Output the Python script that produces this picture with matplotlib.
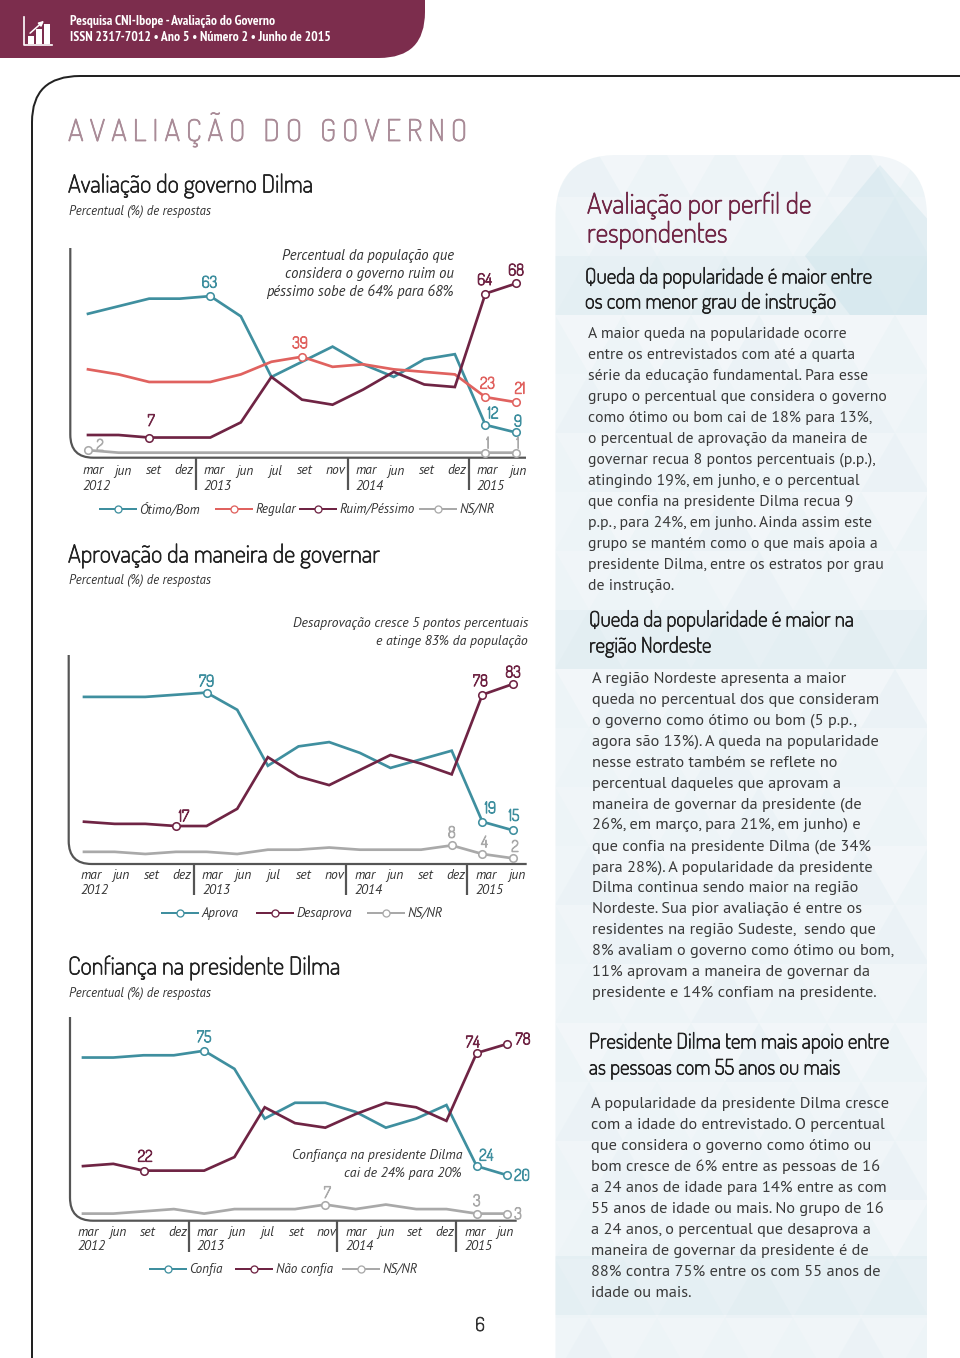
import matplotlib
matplotlib.use("Agg")
import matplotlib.pyplot as plt
import matplotlib.patheffects as pe
from matplotlib.patches import PathPatch, Polygon, FancyBboxPatch
from matplotlib.path import Path

W, H = 960, 1358
TEAL = "#3F8F9F"
RED = "#E0625F"
MAROON = "#6F2444"
GRAY = "#A9A9A9"
BAND = "#7C2D4D"
AXIS = "#555555"
# PT Sans and Dosis come first, the rest are the fallback if they are missing
HEAD = ["Dosis", "Roboto", "DejaVu Sans"]
BODY = ["PT Sans", "Lato", "DejaVu Sans"]
NARROW = ["PT Sans Narrow", "Roboto", "DejaVu Sans"]

months = ["mar", "jun", "set", "dez", "mar", "jun", "jul", "set", "nov",
          "mar", "jun", "set", "dez", "mar", "jun"]
year_idx = [0, 4, 9, 13]
years = ["2012", "2013", "2014", "2015"]

# avaliacao do governo
otimo = [56, 59, 62, 62, 63, 55, 31, 37, 43, 36, 31, 38, 40, 12, 9]
regular = [34, 32, 29, 29, 29, 32, 37, 39, 35, 36, 34, 33, 32, 23, 21]
ruim = [8, 8, 7, 7, 7, 13, 31, 22, 20, 26, 33, 28, 27, 64, 68]
nsnr1 = [2, 1, 1, 1, 1, 1, 1, 1, 1, 1, 1, 1, 1, 1, 1]

# aprovacao
aprova = [77, 77, 77, 78, 79, 71, 45, 54, 56, 51, 44, 48, 52, 19, 15]
desaprova = [19, 18, 18, 17, 17, 25, 49, 40, 36, 43, 50, 46, 41, 78, 83]
nsnr2 = [5, 5, 4, 5, 5, 4, 6, 6, 7, 6, 6, 6, 8, 4, 2]

# confianca
confia = [72, 72, 73, 73, 75, 67, 45, 52, 52, 48, 41, 45, 51, 24, 20]
nao_confia = [24, 25, 22, 22, 22, 28, 50, 43, 41, 47, 52, 50, 44, 74, 78]
nsnr3 = [3, 3, 4, 5, 3, 5, 5, 5, 7, 5, 7, 5, 5, 3, 3]

body1 = ["A maior queda na popularidade ocorre",
         "entre os entrevistados com até a quarta",
         "série da educação fundamental. Para esse",
         "grupo o percentual que considera o governo",
         "como ótimo ou bom cai de 18% para 13%,",
         "o percentual de aprovação da maneira de",
         "governar recua 8 pontos percentuais (p.p.),",
         "atingindo 19%, em junho, e o percentual",
         "que confia na presidente Dilma recua 9",
         "p.p., para 24%, em junho. Ainda assim este",
         "grupo se mantém como o que mais apoia a",
         "presidente Dilma, entre os estratos por grau",
         "de instrução."]
body2 = ["A região Nordeste apresenta a maior",
         "queda no percentual dos que consideram",
         "o governo como ótimo ou bom (5 p.p.,",
         "agora são 13%). A queda na popularidade",
         "nesse estrato também se reflete no",
         "percentual daqueles que aprovam a",
         "maneira de governar da presidente (de",
         "26%, em março, para 21%, em junho) e",
         "que confia na presidente Dilma (de 34%",
         "para 28%). A popularidade da presidente",
         "Dilma continua sendo maior na região",
         "Nordeste. Sua pior avaliação é entre os",
         "residentes na região Sudeste,  sendo que",
         "8% avaliam o governo como ótimo ou bom,",
         "11% aprovam a maneira de governar da",
         "presidente e 14% confiam na presidente."]
body3 = ["A popularidade da presidente Dilma cresce",
         "com a idade do entrevistado. O percentual",
         "que considera o governo como ótimo ou",
         "bom cresce de 6% entre as pessoas de 16",
         "a 24 anos de idade para 14% entre as com",
         "55 anos de idade ou mais. No grupo de 16",
         "a 24 anos, o percentual que desaprova a",
         "maneira de governar da presidente é de",
         "88% contra 75% entre os com 55 anos de",
         "idade ou mais."]


def pt(px):
    return px * 0.72


fig = plt.figure(figsize=(W / 100, H / 100), dpi=100, facecolor="white")
page = fig.add_axes([0, 0, 1, 1])
page.set_xlim(0, W)
page.set_ylim(H, 0)
page.axis("off")


def heavy(color, width=0.55):
    # the Dosis file only has its thin weight, so fatten it with a stroke
    return [pe.withStroke(linewidth=width, foreground=color)]


def txt(x, y, s, size, color="#222222", family=HEAD, **kw):
    kw.setdefault("va", "center")
    t = page.text(x, y, s, fontsize=pt(size), color=color, family=family, **kw)
    if family is HEAD:
        t.set_path_effects(heavy(color))


def draw_path(points, codes, **kw):
    page.add_patch(PathPatch(Path(points, codes), **kw))


M, L, C = Path.MOVETO, Path.LINETO, Path.CURVE3

# header band and page frame
draw_path([(0, 0), (425, 0), (425, 12), (425, 58), (379, 58), (0, 58), (0, 0)],
          [M, L, L, C, C, L, L], fc=BAND, ec="none")
draw_path([(32, H), (32, 122), (32, 76), (80, 76), (W, 76)],
          [M, L, C, C, L], fc="none", ec="#222222", lw=pt(2))

# icon
page.plot([24, 24, 52], [17, 45, 45], color="white", lw=1.2)
for bx, bh in [(28, 8), (36, 15), (44, 20)]:
    page.fill([bx, bx + 6, bx + 6, bx], [44, 44, 44 - bh, 44 - bh], color="white", lw=0)
page.annotate("", xy=(46, 19), xytext=(28, 35),
              arrowprops=dict(arrowstyle="-|>", color="white", lw=1.1, mutation_scale=7))

txt(70, 21, "Pesquisa CNI-Ibope - Avaliação do Governo", 13.6, "white", NARROW, weight="bold")
txt(70, 37.5, "ISSN 2317-7012 • Ano 5 • Número 2 • Junho de 2015", 13.6, "white", NARROW, weight="bold")

txt(68, 131, "A V A L I A Ç Ã O   D O   G O V E R N O", 30, "#A98B97")

# right panel with the triangle pattern
panel = FancyBboxPatch((555.5, 155), 371.5, 1300, boxstyle="round,pad=0,rounding_size=62",
                       fc="#EFF5F8", ec="none")
page.add_patch(panel)
side, row_h = 68, 59
dark_rows = [256, 610, 1256]
for r in range(-2, 21):
    y0 = 138 + 59 * r
    for c in range(0, 8):
        xc = 555 + c * side - (side / 2 if r % 2 else 0)
        up = Polygon([(xc, y0 + row_h), (xc + side, y0 + row_h), (xc + side / 2, y0)],
                     fc="#D5E7ED", ec="none", alpha=0.05 + 0.10 * ((r * 3 + c * 5) % 4 == 0))
        down = Polygon([(xc + side / 2, y0), (xc + side * 1.5, y0), (xc + side, y0 + row_h)],
                       fc="white", ec="none", alpha=0.08 + 0.12 * ((r + c * 3) % 3 == 0))
        page.add_patch(up)
        page.add_patch(down)
        up.set_clip_path(panel)
        down.set_clip_path(panel)
for y0 in dark_rows:
    band = page.fill([555, 927, 927, 555], [y0, y0, y0 + 59, y0 + 59], color="#CDE3EA", alpha=0.25, lw=0)[0]
    band.set_clip_path(panel)
tri = Polygon([(805, 256), (880, 165), (960, 256), (960, 315), (850, 315)], fc="#BFDDE6", ec="none", alpha=0.3)
page.add_patch(tri)
tri.set_clip_path(panel)

# section titles
txt(68, 186, "Avaliação do governo Dilma", 24.5)
txt(68, 556, "Aprovação da maneira de governar", 24.5)
txt(68, 968, "Confiança na presidente Dilma", 24.5)
for sy in [211, 580.5, 993.5]:
    txt(69, sy, "Percentual (%) de respostas", 12.8, "#333333", BODY, style="italic")

# right column
txt(587, 206, "Avaliação por perfil de", 28, MAROON)
txt(587, 235, "respondentes", 28, MAROON)
txt(585, 278, "Queda da popularidade é maior entre", 21.2)
txt(585, 303, "os com menor grau de instrução", 21.2)
txt(589, 621, "Queda da popularidade é maior na", 21.2)
txt(589, 647, "região Nordeste", 21.2)
txt(589, 1043, "Presidente Dilma tem mais apoio entre", 21.2)
txt(589, 1069, "as pessoas com 55 anos ou mais", 21.2)

for i, line in enumerate(body1):
    txt(588, 334 + 21 * i, line, 15.7, "#3A3A3A", BODY)
for i, line in enumerate(body2):
    txt(592, 679 + 20.93 * i, line, 16.4, "#3A3A3A", BODY)
for i, line in enumerate(body3):
    txt(591, 1104 + 21 * i, line, 16.4, "#3A3A3A", BODY)

txt(480, 1326, "6", 19, "#333333", ha="center")


def make_chart(x0, x14, y0, ppp, frame, seps, sep_bottom, month_y, year_y, first_off, last_off):
    left, top, base, right = frame
    r = 23
    draw_path([(left, top), (left, base - r), (left, base), (left + r, base), (right, base)],
              [M, L, C, C, L], fc="none", ec=AXIS, lw=pt(2.2))
    for s in seps:
        page.plot([s, s], [base, sep_bottom], color=AXIS, lw=pt(2.2), solid_capstyle="butt")
    top_val = 100
    ax = fig.add_axes([x0 / W, 1 - y0 / H, (x14 - x0) / W, top_val * ppp / H])
    ax.set_xlim(0, 14)
    ax.set_ylim(0, top_val)
    ax.axis("off")
    ax.patch.set_alpha(0)
    # the month labels are spaced a little tighter than the points
    offs = [first_off + (last_off - first_off) * i / 14 for i in range(15)]
    for i, m in enumerate(months):
        ax.annotate(m, xy=(i, 0), xytext=(pt(offs[i]), -pt(month_y - y0)), textcoords="offset points",
                    ha="center", va="center", fontsize=pt(13.5), style="italic",
                    color="#333333", family=BODY, annotation_clip=False)
    for i, yr in zip(year_idx, years):
        ax.annotate(yr, xy=(i, 0), xytext=(pt(offs[i] - 10.5), -pt(year_y - y0)), textcoords="offset points",
                    ha="left", va="center", fontsize=pt(13.5), style="italic",
                    color="#333333", family=BODY, annotation_clip=False)
    return ax


def series(ax, vals, color, marks):
    ax.plot(range(15), vals, color=color, lw=pt(2.7), clip_on=False, solid_joinstyle="miter")
    ax.plot(marks, [vals[i] for i in marks], ls="none", marker="o", ms=pt(7.5), mfc="white",
            mec=color, mew=pt(1.6), clip_on=False)


def label(ax, vals, i, color, dx, dy):
    t = ax.annotate(str(vals[i]), xy=(i, vals[i]), xytext=(pt(dx), pt(dy - 1)), textcoords="offset points",
                    ha="center", va="center", fontsize=pt(16), color=color,
                    family=HEAD, annotation_clip=False)
    t.set_path_effects(heavy(color, 0.7))


def legend(y, items):
    for x0, text, color in items:
        page.plot([x0, x0 + 36], [y, y], color=color, lw=pt(2))
        page.plot([x0 + 18], [y], ls="none", marker="o", ms=pt(7), mfc="white", mec=color, mew=pt(1.3))
        txt(x0 + 39.5, y, text, 13.1, "#333333", BODY, style="italic")


# chart 1
ax1 = make_chart(88, 516, 455.2, 2.525, (70.3, 248, 457.7, 526), [196, 347.7, 469.3], 490, 471, 486, 5, 1.7)
series(ax1, nsnr1, GRAY, [0, 13, 14])
series(ax1, otimo, TEAL, [4, 13, 14])
series(ax1, regular, RED, [7, 13, 14])
series(ax1, ruim, MAROON, [2, 13, 14])
label(ax1, otimo, 4, TEAL, -1, 14)
label(ax1, regular, 7, RED, -2, 14)
label(ax1, ruim, 2, MAROON, 2, 17)
label(ax1, nsnr1, 0, GRAY, 12, 5)
label(ax1, ruim, 13, MAROON, -1, 14)
label(ax1, ruim, 14, MAROON, 0, 13.5)
label(ax1, regular, 13, RED, 2, 14)
label(ax1, regular, 14, RED, 4, 14)
label(ax1, otimo, 13, TEAL, 7.6, 12)
label(ax1, otimo, 14, TEAL, 2, 11.5)
label(ax1, nsnr1, 13, GRAY, 2.5, 9.7)
label(ax1, nsnr1, 14, GRAY, 2, 9.7)
for ty, s in zip([256, 274, 292], ["Percentual da população que", "considera o governo ruim ou",
                                   "péssimo sobe de 64% para 68%"]):
    txt(454, ty, s, 14.6, "#333333", BODY, style="italic", ha="right")
legend(509, [(100, "Ótimo/Bom", TEAL), (216, "Regular", RED), (300, "Ruim/Péssimo", MAROON), (420, "NS/NR", GRAY)])

# chart 2
ax2 = make_chart(84, 513, 862.6, 2.152, (68.7, 655, 864, 526.7), [194.3, 346, 467.3], 895, 875.5, 890, 7, 3.7)
series(ax2, nsnr2, GRAY, [12, 13, 14])
series(ax2, aprova, TEAL, [4, 13, 14])
series(ax2, desaprova, MAROON, [3, 13, 14])
label(ax2, aprova, 4, TEAL, 0, 11.6)
label(ax2, desaprova, 3, MAROON, 8, 10)
label(ax2, desaprova, 13, MAROON, -2, 14)
label(ax2, desaprova, 14, MAROON, 0, 12)
label(ax2, aprova, 13, TEAL, 8, 14)
label(ax2, aprova, 14, TEAL, 1, 15)
label(ax2, nsnr2, 12, GRAY, 0, 13)
label(ax2, nsnr2, 13, GRAY, 2, 12)
label(ax2, nsnr2, 14, GRAY, 2, 12)
for ty, s in zip([623, 641], ["Desaprovação cresce 5 pontos percentuais", "e atinge 83% da população"]):
    txt(528, ty, s, 13.75, "#333333", BODY, style="italic", ha="right")
legend(913, [(162, "Aprova", TEAL), (257, "Desaprova", MAROON), (368, "NS/NR", GRAY)])

# chart 3
ax3 = make_chart(83, 507, 1220.4, 2.262, (70, 1017, 1220.7, 516.7), [189.3, 337.3, 456], 1251.7, 1232.5, 1246.5, 5.5, -2.5)
series(ax3, nsnr3, GRAY, [8, 13, 14])
series(ax3, confia, TEAL, [4, 13, 14])
series(ax3, nao_confia, MAROON, [2, 13, 14])
label(ax3, confia, 4, TEAL, 0, 14)
label(ax3, nao_confia, 2, MAROON, 1.5, 14.5)
label(ax3, nao_confia, 13, MAROON, -4, 11)
label(ax3, nao_confia, 14, MAROON, 16, 5)
label(ax3, confia, 13, TEAL, 9.5, 11)
label(ax3, confia, 14, TEAL, 15, 0)
label(ax3, nsnr3, 8, GRAY, 2, 12)
label(ax3, nsnr3, 13, GRAY, 0, 13)
label(ax3, nsnr3, 14, GRAY, 11, 0)
for ty, s in zip([1155, 1173], ["Confiança na presidente Dilma", "cai de 24% para 20%"]):
    txt(462, ty, s, 13.8, "#333333", BODY, style="italic", ha="right")
legend(1269, [(150, "Confia", TEAL), (236, "Não confia", MAROON), (343, "NS/NR", GRAY)])

fig.savefig("out.png", dpi=100)
